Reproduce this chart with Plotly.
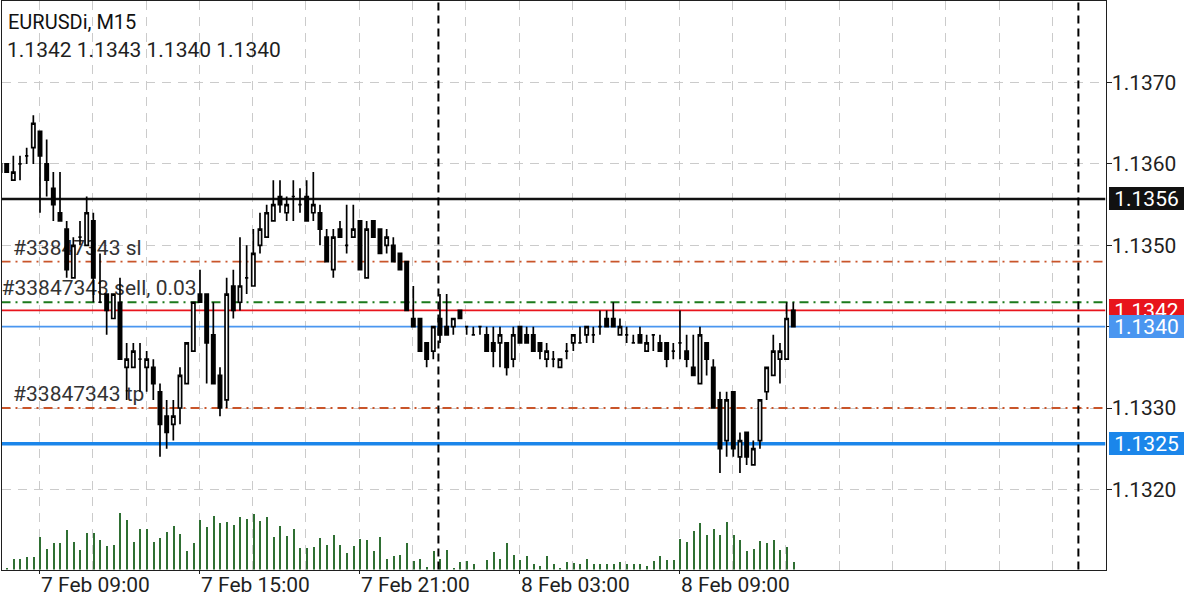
import pandas as pd
import plotly.graph_objects as go

# ==================== Bars (EURUSDi M15) ====================
times = pd.date_range("2019-02-07 07:30", periods=120, freq="15min")

opens = [
    1.1360, 1.1360, 1.1358, 1.1360, 1.1361, 1.1362, 1.1364, 1.1360, 1.1357, 1.1354,
    1.1352, 1.1346, 1.1351, 1.1350, 1.1353, 1.1343, 1.1344, 1.1341, 1.1343, 1.1335,
    1.1335, 1.1336, 1.1335, 1.1335, 1.1332, 1.1329, 1.1328, 1.1330, 1.1333, 1.1337,
    1.1344, 1.1344, 1.1339, 1.1334, 1.1331, 1.1345, 1.1343, 1.1346, 1.1345, 1.1350,
    1.1351, 1.1353, 1.1356, 1.1354, 1.1356, 1.1355, 1.1356, 1.1354, 1.1354, 1.1351,
    1.1347, 1.1352, 1.1350, 1.1351, 1.1353, 1.1346, 1.1353, 1.1352, 1.1350, 1.1350,
    1.1349, 1.1348, 1.1341, 1.1341, 1.1338, 1.1337, 1.1341, 1.1340, 1.1340, 1.1342,
    1.1340, 1.1339, 1.1340, 1.1339, 1.1338, 1.1338, 1.1338, 1.1336, 1.1340, 1.1339,
    1.1339, 1.1338, 1.1336, 1.1336, 1.1335, 1.1337, 1.1338, 1.1338, 1.1339, 1.1339,
    1.1340, 1.1341, 1.1341, 1.1339, 1.1339, 1.1338, 1.1339, 1.1337, 1.1339, 1.1338,
    1.1338, 1.1337, 1.1338, 1.1337, 1.1335, 1.1333, 1.1338, 1.1335, 1.1331, 1.1326,
    1.1332, 1.1324, 1.1327, 1.1323, 1.1326, 1.1332, 1.1334, 1.1336, 1.1336, 1.1342,
]
highs = [
    1.1361, 1.1360, 1.1361, 1.1361, 1.1362, 1.1366, 1.1364, 1.1363, 1.1359, 1.1359,
    1.1353, 1.1351, 1.1353, 1.1356, 1.1354, 1.1349, 1.1344, 1.1344, 1.1346, 1.1338,
    1.1338, 1.1338, 1.1337, 1.1336, 1.1333, 1.1331, 1.1331, 1.1335, 1.1338, 1.1343,
    1.1347, 1.1344, 1.1343, 1.1335, 1.1346, 1.1347, 1.1351, 1.1350, 1.1352, 1.1354,
    1.1355, 1.1358, 1.1358, 1.1356, 1.1358, 1.1357, 1.1358, 1.1359, 1.1355, 1.1352,
    1.1352, 1.1353, 1.1355, 1.1355, 1.1353, 1.1353, 1.1353, 1.1352, 1.1352, 1.1351,
    1.1349, 1.1348, 1.1345, 1.1341, 1.1338, 1.1340, 1.1344, 1.1344, 1.1341, 1.1342,
    1.1340, 1.1340, 1.1340, 1.1340, 1.1340, 1.1340, 1.1338, 1.1340, 1.1340, 1.1340,
    1.1340, 1.1338, 1.1338, 1.1337, 1.1336, 1.1338, 1.1339, 1.1340, 1.1340, 1.1340,
    1.1342, 1.1342, 1.1343, 1.1341, 1.1340, 1.1339, 1.1340, 1.1339, 1.1339, 1.1339,
    1.1338, 1.1338, 1.1342, 1.1339, 1.1339, 1.1340, 1.1338, 1.1336, 1.1332, 1.1332,
    1.1332, 1.1327, 1.1327, 1.1326, 1.1331, 1.1335, 1.1339, 1.1338, 1.1343, 1.1343,
]
lows = [
    1.1359, 1.1359, 1.1358, 1.1358, 1.1360, 1.1360, 1.1354, 1.1356, 1.1353, 1.1353,
    1.1346, 1.1346, 1.1350, 1.1350, 1.1343, 1.1343, 1.1339, 1.1341, 1.1336, 1.1331,
    1.1335, 1.1332, 1.1332, 1.1331, 1.1324, 1.1325, 1.1326, 1.1328, 1.1333, 1.1337,
    1.1343, 1.1333, 1.1333, 1.1329, 1.1330, 1.1341, 1.1342, 1.1344, 1.1345, 1.1349,
    1.1351, 1.1353, 1.1354, 1.1353, 1.1353, 1.1354, 1.1353, 1.1353, 1.1350, 1.1348,
    1.1346, 1.1351, 1.1349, 1.1351, 1.1347, 1.1346, 1.1351, 1.1349, 1.1349, 1.1348,
    1.1347, 1.1342, 1.1340, 1.1337, 1.1335, 1.1336, 1.1338, 1.1339, 1.1339, 1.1341,
    1.1339, 1.1339, 1.1339, 1.1337, 1.1335, 1.1335, 1.1334, 1.1335, 1.1338, 1.1338,
    1.1337, 1.1336, 1.1335, 1.1335, 1.1335, 1.1336, 1.1337, 1.1338, 1.1338, 1.1338,
    1.1339, 1.1340, 1.1340, 1.1339, 1.1338, 1.1338, 1.1338, 1.1337, 1.1337, 1.1337,
    1.1335, 1.1336, 1.1336, 1.1335, 1.1334, 1.1333, 1.1334, 1.1330, 1.1322, 1.1324,
    1.1324, 1.1322, 1.1323, 1.1323, 1.1325, 1.1331, 1.1334, 1.1333, 1.1336, 1.1340,
]
closes = [
    1.1359, 1.1359, 1.1359, 1.1360, 1.1361, 1.1365, 1.1361, 1.1358, 1.1355, 1.1353,
    1.1347, 1.1350, 1.1351, 1.1354, 1.1346, 1.1343, 1.1342, 1.1344, 1.1336, 1.1336,
    1.1337, 1.1336, 1.1336, 1.1333, 1.1328, 1.1327, 1.1329, 1.1334, 1.1338, 1.1343,
    1.1343, 1.1338, 1.1333, 1.1330, 1.1344, 1.1342, 1.1345, 1.1346, 1.1349, 1.1352,
    1.1354, 1.1355, 1.1355, 1.1355, 1.1356, 1.1355, 1.1353, 1.1355, 1.1352, 1.1348,
    1.1351, 1.1351, 1.1350, 1.1352, 1.1347, 1.1352, 1.1351, 1.1349, 1.1351, 1.1348,
    1.1347, 1.1342, 1.1340, 1.1337, 1.1336, 1.1340, 1.1339, 1.1339, 1.1341, 1.1341,
    1.1340, 1.1339, 1.1340, 1.1337, 1.1337, 1.1339, 1.1335, 1.1339, 1.1338, 1.1338,
    1.1337, 1.1337, 1.1337, 1.1336, 1.1336, 1.1337, 1.1339, 1.1338, 1.1340, 1.1339,
    1.1340, 1.1340, 1.1340, 1.1340, 1.1339, 1.1338, 1.1338, 1.1338, 1.1339, 1.1337,
    1.1336, 1.1337, 1.1338, 1.1336, 1.1334, 1.1339, 1.1336, 1.1330, 1.1325, 1.1331,
    1.1325, 1.1326, 1.1324, 1.1325, 1.1331, 1.1335, 1.1337, 1.1337, 1.1341, 1.1340,
]
volumes = [
    23, 5, 33, 33, 38, 38, 98, 60, 78, 78,
    118, 83, 58, 108, 108, 88, 70, 73, 168, 148,
    83, 120, 120, 81, 93, 111, 130, 106, 55, 78,
    148, 126, 160, 138, 143, 133, 156, 151, 166, 146,
    158, 96, 130, 100, 120, 63, 63, 68, 93, 73,
    103, 73, 51, 70, 91, 88, 56, 98, 33, 40,
    45, 78, 26, 33, 8, 55, 33, 58, 3, 23,
    25, 16, 0, 28, 53, 31, 80, 43, 28, 40,
    18, 11, 40, 16, 5, 23, 21, 16, 33, 18,
    16, 18, 18, 23, 16, 16, 16, 11, 25, 40,
    28, 28, 91, 81, 115, 138, 103, 121, 103, 143,
    103, 88, 56, 61, 86, 78, 88, 58, 66, 23,
]

# ==================== Axis labels ====================
price_ticks = [1.1320, 1.1330, 1.1340, 1.1350, 1.1360, 1.1370]
time_ticks = ["2019-02-07 09:00", "2019-02-07 15:00", "2019-02-07 21:00",
              "2019-02-08 03:00", "2019-02-08 09:00"]
time_labels = ["7 Feb 09:00", "7 Feb 15:00", "7 Feb 21:00", "8 Feb 03:00", "8 Feb 09:00"]
day_breaks = ["2019-02-07 23:58", "2019-02-08 23:58"]
time_range = ["2019-02-07 07:34:52", "2019-02-09 00:59:00"]

# ==================== Price levels ====================
level_prices = [1.13557, 1.1342, 1.1340, 1.13256]
level_tags = ["1.1356", "1.1342", "1.1340", "1.1325"]
level_colors = ["#111111", "#e8141c", "#4a96f0", "#1b86ea"]
level_widths = [2.6, 1.8, 1.6, 3.4]

order_prices = [1.1348, 1.1343, 1.1330]
order_tags = ["#33847343 sl", "#33847343 sell, 0.03", "#33847343 tp"]
order_colors = ["#c9552a", "#1c7a1c", "#c9552a"]
order_tag_start = ["2019-02-07 08:01", "2019-02-07 07:35", "2019-02-07 08:01"]

DARK = "#1f1f1f"
GRID = "#cbcbcb"
FONT = "Roboto"

fig = go.Figure()

# bars sit a touch right of the grid in the terminal
fig.add_trace(go.Bar(
    x=times + pd.Timedelta(seconds=90),
    y=volumes,
    yaxis="y2",
    width=200000,
    marker=dict(color="#2f6f33", line_width=0),
    showlegend=False,
))
fig.add_trace(go.Candlestick(
    x=times + pd.Timedelta(seconds=90),
    open=opens,
    high=highs,
    low=lows,
    close=closes,
    increasing=dict(line=dict(color="#000000", width=1.7), fillcolor="#ffffff"),
    decreasing=dict(line=dict(color="#000000", width=1.7), fillcolor="#000000"),
    whiskerwidth=0,
    showlegend=False,
))

# ==================== Lines under the candles ====================
for price, color, width in zip(level_prices, level_colors, level_widths):
    fig.add_shape(type="line", xref="x", x0=time_range[0], x1=time_range[1], yref="y", y0=price, y1=price,
                  layer="between", line=dict(color=color, width=width))

for price, color in zip(order_prices, order_colors):
    fig.add_shape(type="line", xref="x", x0=time_range[0], x1=time_range[1], yref="y", y0=price, y1=price,
                  layer="between", line=dict(color=color, width=1.8, dash="9px,5px,2px,5px"))

for price, tag, start in zip(order_prices, order_tags, order_tag_start):
    fig.add_shape(type="line", xref="x", x0=start, x1=time_range[1], yref="y", y0=price, y1=price,
                  layer="between", line=dict(color="rgba(0,0,0,0)", width=0),
                  label=dict(text=tag, textposition="start", xanchor="left", yanchor="bottom",
                             padding=4, font=dict(family=FONT, size=21, color="#333333")))

for when in day_breaks:
    fig.add_shape(type="line", x0=when, x1=when, yref="y domain", y0=0, y1=1,
                  line=dict(color="#000000", width=2, dash="8px,5px"))

# ==================== Texts ====================
fig.add_annotation(text="EURUSDi, M15", xref="paper", yref="paper", x=0.005, y=0.964,
                   xanchor="left", yanchor="middle", showarrow=False,
                   font=dict(family=FONT, size=20, color="#111111"))
fig.add_annotation(text="1.1342 1.1343 1.1340 1.1340", xref="paper", yref="paper", x=0.0044, y=0.917,
                   xanchor="left", yanchor="middle", showarrow=False,
                   font=dict(family=FONT, size=21, color=DARK))

for when, label in zip(time_ticks, time_labels):
    fig.add_annotation(text=label, x=when, xref="x", yref="paper", y=0.025, xanchor="left",
                       yanchor="middle", showarrow=False,
                       font=dict(family=FONT, size=21, color=DARK))

for price, tag, color in zip(level_prices, level_tags, level_colors):
    fig.add_annotation(text=tag, xref="paper", x=0.924, xanchor="left", yref="y", y=price,
                       yanchor="middle", showarrow=False, bgcolor=color, width=75, height=23,
                       borderpad=0, borderwidth=0, align="center",
                       font=dict(family=FONT, size=21, color="#ffffff"))

# ==================== Layout Settings ====================
fig.update_layout(
    width=1200,
    height=600,
    margin=dict(l=0, r=0, t=0, b=0),
    paper_bgcolor="#ffffff",
    plot_bgcolor="#ffffff",
    bargap=0,
    hovermode=False,
    xaxis=dict(
        domain=[0.00125, 0.92125],
        range=time_range,
        rangeslider=dict(visible=False),
        tickmode="array",
        tickvals=time_ticks,
        showticklabels=False,
        ticks="outside",
        ticklen=3,
        tickwidth=1.3,
        tickcolor=DARK,
        showline=True,
        linecolor=DARK,
        linewidth=1.3,
        mirror=True,
        showgrid=True,
        gridcolor=GRID,
        griddash="9px,7px",
        gridwidth=1.2,
        zeroline=False,
        minor=dict(tick0="2019-02-07 09:00", dtick=7200000, showgrid=True, gridcolor=GRID,
                   griddash="9px,7px", gridwidth=1.2, ticks=""),
    ),
    yaxis=dict(
        domain=[0.05083, 0.99833],
        range=[1.131015, 1.138003],
        side="right",
        tickmode="array",
        tickvals=price_ticks,
        tickformat=".4f",
        ticks="outside",
        ticklen=5,
        tickwidth=1.3,
        tickcolor=DARK,
        tickfont=dict(family=FONT, size=21, color=DARK),
        ticklabelstandoff=-4,
        showline=True,
        linecolor=DARK,
        linewidth=1.3,
        mirror=True,
        showgrid=True,
        gridcolor=GRID,
        griddash="9px,7px",
        gridwidth=1.2,
        zeroline=False,
    ),
    yaxis2=dict(
        domain=[0.05083, 0.99833],
        range=[0, 1705],
        overlaying="y",
        visible=False,
    ),
)

# page margin would push the chart 8px off the window
fig.write_html("out.html", config=dict(displayModeBar=False),
               post_script="document.body.style.margin='0';")
